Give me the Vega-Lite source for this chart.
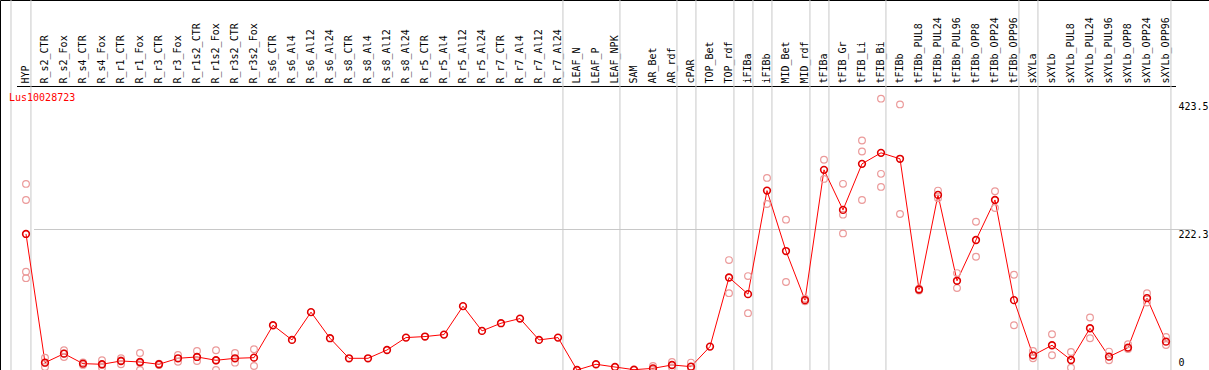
{
  "$schema": "https://vega.github.io/schema/vega-lite/v6.json",
  "width": 1209,
  "height": 370,
  "autosize": "none",
  "padding": 0,
  "background": "white",
  "title": {"text": "Lus10028723", "anchor": "start", "frame": "group", "orient": "top", "offset": -103, "dx": 9, "color": "red", "font": "DejaVu Sans Mono", "fontSize": 10, "fontWeight": "normal"},
  "config": {
    "view": {"stroke": "black", "strokeWidth": 1},
    "axis": {"labelFont": "DejaVu Sans Mono", "labelFontSize": 10, "labelColor": "black"}
  },
  "datasets": {
    "means": [
      {"cat": "HYP", "v": 214}, {"cat": "R_s2_CTR", "v": 11.6}, {"cat": "R_s2_Fox", "v": 25.7}, {"cat": "R_s4_CTR", "v": 10}, {"cat": "R_s4_Fox", "v": 9},
      {"cat": "R_r1_CTR", "v": 14.2}, {"cat": "R_r1_Fox", "v": 12.6}, {"cat": "R_r3_CTR", "v": 9}, {"cat": "R_r3_Fox", "v": 18.4}, {"cat": "R_r1s2_CTR", "v": 20.5},
      {"cat": "R_r1s2_Fox", "v": 15.3}, {"cat": "R_r3s2_CTR", "v": 18.4}, {"cat": "R_r3s2_Fox", "v": 19.4}, {"cat": "R_s6_CTR", "v": 70.4}, {"cat": "R_s6_Al4", "v": 47.3},
      {"cat": "R_s6_Al12", "v": 91}, {"cat": "R_s6_Al24", "v": 50}, {"cat": "R_s8_CTR", "v": 18.4}, {"cat": "R_s8_Al4", "v": 18.4}, {"cat": "R_s8_Al12", "v": 31.5},
      {"cat": "R_s8_Al24", "v": 51}, {"cat": "R_r5_CTR", "v": 52.6}, {"cat": "R_r5_Al4", "v": 55.7}, {"cat": "R_r5_Al12", "v": 100.4}, {"cat": "R_r5_Al24", "v": 61.5},
      {"cat": "R_r7_CTR", "v": 73.6}, {"cat": "R_r7_Al4", "v": 80.9}, {"cat": "R_r7_Al12", "v": 47.3}, {"cat": "R_r7_Al24", "v": 51}, {"cat": "LEAF_N", "v": 0},
      {"cat": "LEAF_P", "v": 9}, {"cat": "LEAF_NPK", "v": 4.7}, {"cat": "SAM", "v": 0.5}, {"cat": "AR_Bet", "v": 2.6}, {"cat": "AR_rdf", "v": 7.9},
      {"cat": "cPAR", "v": 5.3}, {"cat": "TOP_Bet", "v": 36.8}, {"cat": "TOP_rdf", "v": 145.5}, {"cat": "iFIBa", "v": 119.3}, {"cat": "iFIBb", "v": 282.2},
      {"cat": "MID_Bet", "v": 187.1}, {"cat": "MID_rdf", "v": 109.9}, {"cat": "tFIBa", "v": 314.8}, {"cat": "tFIB_Gr", "v": 251.8}, {"cat": "tFIB_Li", "v": 324.3},
      {"cat": "tFIB_Bi", "v": 341.6}, {"cat": "tFIBb", "v": 332.2}, {"cat": "tFIBb_PUL8", "v": 126.6}, {"cat": "tFIBb_PUL24", "v": 275.4}, {"cat": "tFIBb_PUL96", "v": 140.3},
      {"cat": "tFIBb_OPP8", "v": 204.5}, {"cat": "tFIBb_OPP24", "v": 267.5}, {"cat": "tFIBb_OPP96", "v": 109.9}, {"cat": "sXYLa", "v": 23.1}, {"cat": "sXYLb", "v": 38.9},
      {"cat": "sXYLb_PUL8", "v": 15.8}, {"cat": "sXYLb_PUL24", "v": 65.7}, {"cat": "sXYLb_PUL96", "v": 21}, {"cat": "sXYLb_OPP8", "v": 35.2}, {"cat": "sXYLb_OPP24", "v": 113},
      {"cat": "sXYLb_OPP96", "v": 44.6}
    ],
    "reps": [
      {"cat": "HYP", "v": 292.7}, {"cat": "HYP", "v": 267.5}, {"cat": "HYP", "v": 154.5}, {"cat": "HYP", "v": 144.5},
      {"cat": "R_s2_CTR", "v": 19.4}, {"cat": "R_s2_CTR", "v": 4.7}, {"cat": "R_s2_CTR", "v": 11},
      {"cat": "R_s2_Fox", "v": 31}, {"cat": "R_s2_Fox", "v": 20.5}, {"cat": "R_s2_Fox", "v": 26},
      {"cat": "R_s4_CTR", "v": 12}, {"cat": "R_s4_CTR", "v": 8},
      {"cat": "R_s4_Fox", "v": 15.3}, {"cat": "R_s4_Fox", "v": 3.7}, {"cat": "R_s4_Fox", "v": 8},
      {"cat": "R_r1_CTR", "v": 18.4}, {"cat": "R_r1_CTR", "v": 9}, {"cat": "R_r1_CTR", "v": 15},
      {"cat": "R_r1_Fox", "v": 26.8}, {"cat": "R_r1_Fox", "v": 0}, {"cat": "R_r1_Fox", "v": 11},
      {"cat": "R_r3_CTR", "v": 10}, {"cat": "R_r3_CTR", "v": 8},
      {"cat": "R_r3_Fox", "v": 23.6}, {"cat": "R_r3_Fox", "v": 13.1},
      {"cat": "R_r1s2_CTR", "v": 30}, {"cat": "R_r1s2_CTR", "v": 14.2},
      {"cat": "R_r1s2_Fox", "v": 31}, {"cat": "R_r1s2_Fox", "v": 0}, {"cat": "R_r1s2_Fox", "v": 15},
      {"cat": "R_r3s2_CTR", "v": 26.8}, {"cat": "R_r3s2_CTR", "v": 11.6},
      {"cat": "R_r3s2_Fox", "v": 32.6}, {"cat": "R_r3s2_Fox", "v": 6.3},
      {"cat": "AR_Bet", "v": 6.3}, {"cat": "AR_Bet", "v": 0.5},
      {"cat": "AR_rdf", "v": 12.6}, {"cat": "AR_rdf", "v": 4},
      {"cat": "cPAR", "v": 11.6}, {"cat": "cPAR", "v": 2},
      {"cat": "TOP_rdf", "v": 172.9}, {"cat": "TOP_rdf", "v": 120.9},
      {"cat": "iFIBa", "v": 147.7}, {"cat": "iFIBa", "v": 89.4},
      {"cat": "iFIBb", "v": 302.2}, {"cat": "iFIBb", "v": 261.2},
      {"cat": "MID_Bet", "v": 236.5}, {"cat": "MID_Bet", "v": 138.3},
      {"cat": "MID_rdf", "v": 112}, {"cat": "MID_rdf", "v": 108},
      {"cat": "tFIBa", "v": 330.6}, {"cat": "tFIBa", "v": 300.6},
      {"cat": "tFIB_Gr", "v": 292.8}, {"cat": "tFIB_Gr", "v": 244.4}, {"cat": "tFIB_Gr", "v": 214.9},
      {"cat": "tFIB_Li", "v": 361}, {"cat": "tFIB_Li", "v": 343.7}, {"cat": "tFIB_Li", "v": 267.5},
      {"cat": "tFIB_Bi", "v": 426.8}, {"cat": "tFIB_Bi", "v": 308.5}, {"cat": "tFIB_Bi", "v": 288},
      {"cat": "tFIBb", "v": 417.8}, {"cat": "tFIBb", "v": 245.5},
      {"cat": "tFIBb_PUL8", "v": 128}, {"cat": "tFIBb_PUL8", "v": 125},
      {"cat": "tFIBb_PUL24", "v": 282.2}, {"cat": "tFIBb_PUL24", "v": 270},
      {"cat": "tFIBb_PUL96", "v": 152.4}, {"cat": "tFIBb_PUL96", "v": 128.8},
      {"cat": "tFIBb_OPP8", "v": 233.3}, {"cat": "tFIBb_OPP8", "v": 178.2},
      {"cat": "tFIBb_OPP24", "v": 281.1}, {"cat": "tFIBb_OPP24", "v": 254.9},
      {"cat": "tFIBb_OPP96", "v": 149.8}, {"cat": "tFIBb_OPP96", "v": 70.4},
      {"cat": "sXYLa", "v": 30}, {"cat": "sXYLa", "v": 18.4},
      {"cat": "sXYLb", "v": 56.3}, {"cat": "sXYLb", "v": 23.1},
      {"cat": "sXYLb_PUL8", "v": 28.4}, {"cat": "sXYLb_PUL8", "v": 3.7},
      {"cat": "sXYLb_PUL24", "v": 82.5}, {"cat": "sXYLb_PUL24", "v": 50},
      {"cat": "sXYLb_PUL96", "v": 28.9}, {"cat": "sXYLb_PUL96", "v": 15.3},
      {"cat": "sXYLb_OPP8", "v": 40.5}, {"cat": "sXYLb_OPP8", "v": 33},
      {"cat": "sXYLb_OPP24", "v": 120.9}, {"cat": "sXYLb_OPP24", "v": 106},
      {"cat": "sXYLb_OPP96", "v": 52}, {"cat": "sXYLb_OPP96", "v": 39.4}
    ],
    "groupEnds": [
      {"cat": "HYP"}, {"cat": "R_r7_Al24"}, {"cat": "LEAF_NPK"}, {"cat": "AR_rdf"}, {"cat": "cPAR"}, {"cat": "TOP_rdf"}, {"cat": "iFIBa"},
      {"cat": "iFIBb"}, {"cat": "MID_rdf"}, {"cat": "tFIBa"}, {"cat": "tFIB_Bi"}, {"cat": "tFIBb_OPP96"}, {"cat": "sXYLa"}, {"cat": "sXYLb_OPP96"}
    ],
    "groupStart": [{"cat": "HYP"}]
  },
  "layer": [
    {
      "data": {"name": "groupEnds"},
      "mark": {"type": "rule", "color": "#c8c8c8", "strokeWidth": 1},
      "encoding": {"x": {"field": "cat", "type": "nominal", "bandPosition": 0.76}}
    },
    {
      "data": {"name": "groupStart"},
      "mark": {"type": "rule", "color": "#c8c8c8", "strokeWidth": 1},
      "encoding": {"x": {"field": "cat", "type": "nominal", "bandPosition": -0.29}}
    },
    {
      "data": {"name": "means"},
      "mark": {"type": "line", "color": "red", "strokeWidth": 1},
      "encoding": {
        "x": {
          "field": "cat", "type": "nominal", "sort": null,
          "scale": {
            "type": "band", "paddingInner": 0, "paddingOuter": 0, "range": [16.5, 1175.5],
            "domain": ["HYP","R_s2_CTR","R_s2_Fox","R_s4_CTR","R_s4_Fox","R_r1_CTR","R_r1_Fox","R_r3_CTR","R_r3_Fox","R_r1s2_CTR","R_r1s2_Fox","R_r3s2_CTR","R_r3s2_Fox","R_s6_CTR","R_s6_Al4","R_s6_Al12","R_s6_Al24","R_s8_CTR","R_s8_Al4","R_s8_Al12","R_s8_Al24","R_r5_CTR","R_r5_Al4","R_r5_Al12","R_r5_Al24","R_r7_CTR","R_r7_Al4","R_r7_Al12","R_r7_Al24","LEAF_N","LEAF_P","LEAF_NPK","SAM","AR_Bet","AR_rdf","cPAR","TOP_Bet","TOP_rdf","iFIBa","iFIBb","MID_Bet","MID_rdf","tFIBa","tFIB_Gr","tFIB_Li","tFIB_Bi","tFIBb","tFIBb_PUL8","tFIBb_PUL24","tFIBb_PUL96","tFIBb_OPP8","tFIBb_OPP24","tFIBb_OPP96","sXYLa","sXYLb","sXYLb_PUL8","sXYLb_PUL24","sXYLb_PUL96","sXYLb_OPP8","sXYLb_OPP24","sXYLb_OPP96"]
          },
          "axis": {
            "orient": "top", "offset": -86, "title": null, "labelAngle": -90, "labelPadding": 3,
            "labelOverlap": false, "ticks": false, "grid": false, "domainColor": "black", "domainWidth": 1,
            "labelAlign": "left", "labelBaseline": "middle"
          }
        },
        "y": {
          "field": "v", "type": "quantitative",
          "scale": {"domain": [0, 582], "nice": false, "zero": true},
          "axis": {
            "orient": "right", "offset": -31, "title": null, "values": [0, 222.3, 423.5],
            "labelExpr": "datum.value === 0 ? '0' : format(datum.value, '.1f')",
            "domain": false, "ticks": false, "labelPadding": 0, "labelAlign": "left",
            "labelBaseline": {"condition": {"test": "datum.value === 0", "value": "bottom"}, "value": "top"},
            "labelOffset": {"condition": {"test": "datum.value === 0", "value": -3}, "value": 1},
            "grid": true,
            "gridColor": {"condition": {"test": "datum.value === 222.3", "value": "#c8c8c8"}, "value": "transparent"}
          }
        }
      }
    },
    {
      "data": {"name": "reps"},
      "mark": {"type": "point", "filled": false, "color": "#eb9a9a", "strokeWidth": 1.2, "size": 45, "opacity": 1},
      "encoding": {
        "x": {"field": "cat", "type": "nominal"},
        "y": {"field": "v", "type": "quantitative"}
      }
    },
    {
      "data": {"name": "means"},
      "mark": {"type": "point", "filled": false, "color": "#e00000", "strokeWidth": 1.6, "size": 45, "opacity": 1},
      "encoding": {
        "x": {"field": "cat", "type": "nominal"},
        "y": {"field": "v", "type": "quantitative"}
      }
    }
  ]
}
